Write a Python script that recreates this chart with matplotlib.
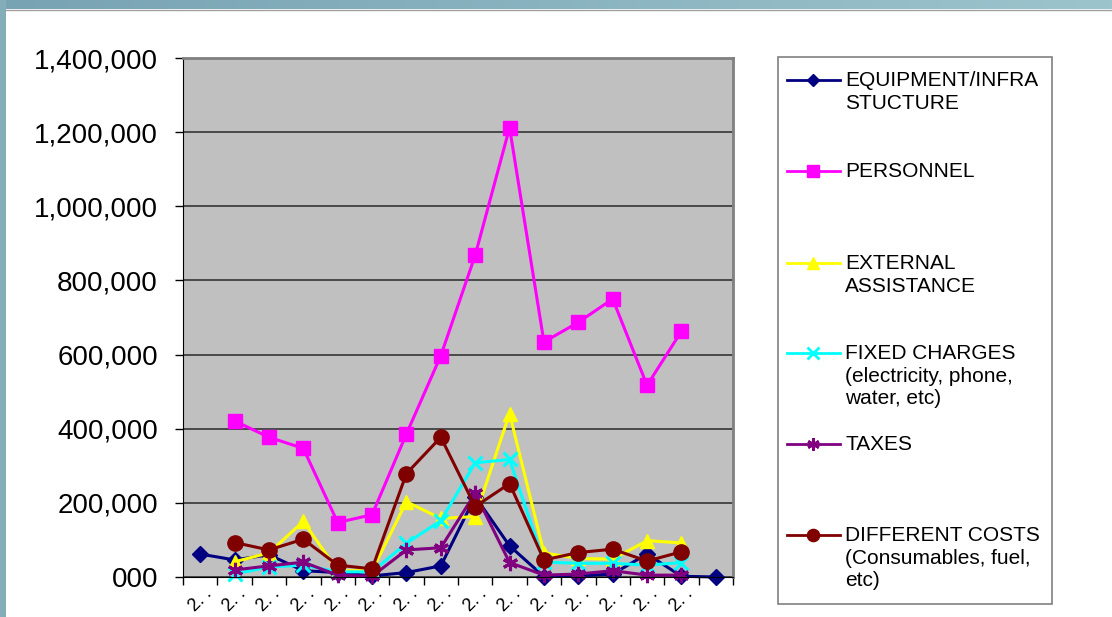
import matplotlib
matplotlib.use("Agg")
import matplotlib.pyplot as plt
from matplotlib.patches import Rectangle
from matplotlib.lines import Line2D
from matplotlib.colors import LinearSegmentedColormap
import numpy as np

plt.rcParams['font.family'] = ['Liberation Sans', 'DejaVu Sans']

nan = np.nan
categories = ["2. ."] * 15 + [""]
equipment = [62000, 46000, 60000, 17000, 12000, 3000, 12000, 30000, 217000, 84000, 1000, 3000, 8000, 62000, 2000, 0]
personnel = [nan, 421000, 377000, 347000, 147000, 168000, 386000, 597000, 868000, 1212000, 634000, 687000, 750000, 517000, 663000, nan]
external = [nan, 41000, 65000, 150000, 17000, 17000, 203000, 158000, 163000, 441000, 65000, 50000, 48000, 98000, 92000, nan]
fixed = [nan, 8000, 27000, 32000, 14000, 14000, 91000, 152000, 308000, 317000, 40000, 37000, 37000, 32000, 39000, nan]
taxes = [nan, 19000, 30000, 40000, 5000, 2000, 73000, 79000, 226000, 39000, 5000, 8000, 17000, 5000, 5000, nan]
costs = [nan, 93000, 73000, 102000, 32000, 22000, 279000, 377000, 190000, 252000, 46000, 66000, 75000, 43000, 68000, nan]

yticks = [0, 200000, 400000, 600000, 800000, 1000000, 1200000, 1400000]
ytick_labels = ["000", "200,000", "400,000", "600,000", "800,000", "1,000,000", "1,200,000", "1,400,000"]

labels = ["EQUIPMENT/INFRA\nSTUCTURE", "PERSONNEL", "EXTERNAL\nASSISTANCE",
          "FIXED CHARGES\n(electricity, phone,\nwater, etc)", "TAXES",
          "DIFFERENT COSTS\n(Consumables, fuel,\netc)"]
colors = ["#000080", "#FF00FF", "#FFFF00", "#00FFFF", "#800080", "#800000"]
markers = ["D", "s", "^", "x", (6, 2, 0), "o"]
msizes = [8, 10, 10, 10, 11, 11]
series = [equipment, personnel, external, fixed, taxes, costs]

W, H = 1112, 617
fig = plt.figure(figsize=(W / 100, H / 100), dpi=100)

# background slide frame and legend drawn in pixel coordinates
bg = fig.add_axes([0, 0, 1, 1], zorder=-1)
bg.set_xlim(0, W)
bg.set_ylim(H, 0)
bg.axis("off")
grad = np.linspace(0, 1, 256)[None, :]
teal = LinearSegmentedColormap.from_list("teal", ["#78A3B3", "#9CC4CD"])
bg.imshow(grad, cmap=teal, extent=(0, W, 9, 0), aspect="auto")
bg.add_patch(Rectangle((0, 0), 6, H, color="#84ADBA", lw=0))
bg.plot([6, W], [9.5, 9.5], color="#A0A0A0", lw=1)

# legend box
bg.add_patch(Rectangle((778, 57), 274, 547, facecolor="white", edgecolor="#808080", lw=1.2))
entry_y = [80, 171, 263, 353, 444, 535]
for lab, c, m, ms, y in zip(labels, colors, markers, msizes, entry_y):
    bg.add_line(Line2D([787, 840], [y, y], color=c, lw=2))
    bg.add_line(Line2D([813], [y], color=c, marker=m, markersize=ms * 0.8,
                       markeredgewidth=2 if m in ("x", (6, 2, 0)) else 1))
    bg.text(845, y - 9, lab, fontsize=15, va="top", ha="left", linespacing=1.25)

ax = fig.add_axes([183 / W, (H - 577) / H, 550 / W, 519 / H])
ax.set_facecolor("#C0C0C0")
x = np.arange(len(categories))
for s, c, m, ms in zip(series, colors, markers, msizes):
    ax.plot(x, s, color=c, lw=2.2, marker=m, markersize=ms,
            markeredgewidth=2.2 if m in ("x", (6, 2, 0)) else 1, clip_on=False)

ax.set_xlim(-0.5, len(categories) - 0.5)
ax.set_ylim(0, 1400000)
ax.set_yticks(yticks)
ax.set_yticklabels(ytick_labels, fontsize=20)
ax.tick_params(axis="y", length=6, width=1, pad=12, direction="out")
ax.set_xticks(np.arange(len(categories) + 1) - 0.5)
ax.set_xticklabels([])
ax.tick_params(axis="x", length=6, width=1, direction="out")
ax.set_xticks(x, minor=True)
ax.set_xticklabels(categories, minor=True, rotation=45, fontsize=13, ha="center", va="top")
ax.tick_params(axis="x", which="minor", length=0, pad=6)
ax.yaxis.grid(True, color="#404040", lw=1.3)
ax.set_axisbelow(True)
for side in ("top", "right"):
    ax.spines[side].set_color("#808080")
    ax.spines[side].set_linewidth(2)
ax.spines["left"].set_color("black")
ax.spines["bottom"].set_color("black")

fig.savefig("out.png", dpi=100)
